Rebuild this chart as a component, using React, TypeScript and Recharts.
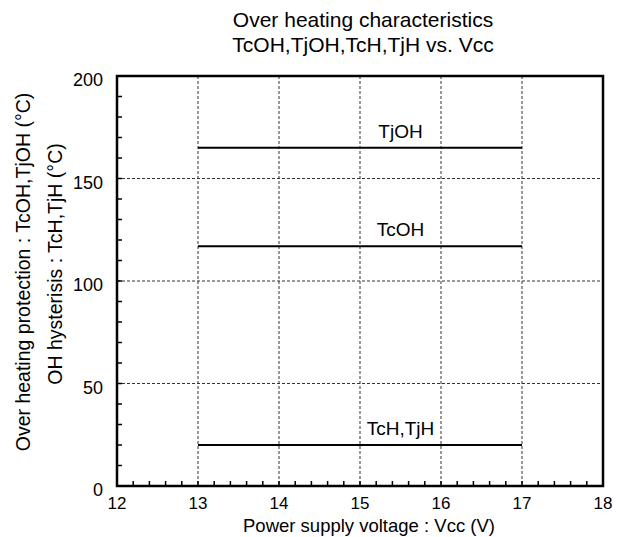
import React from 'react';
import {
  LineChart,
  Line,
  XAxis,
  YAxis,
  CartesianGrid,
  ReferenceArea,
  ReferenceDot,
} from 'recharts';

// power supply voltage (V) where each characteristic is specified
const vcc = [13, 17];
const tjoh = [165, 165];
const tcoh = [117, 117];
const tch = [20, 20];

const xTickLabels = [12, 13, 14, 15, 16, 17, 18];
const yTickLabels = [0, 50, 100, 150, 200];
const xMinorTicks = [
  12, 12.2, 12.4, 12.6, 12.8, 13, 13.2, 13.4, 13.6, 13.8, 14, 14.2, 14.4, 14.6, 14.8, 15,
  15.2, 15.4, 15.6, 15.8, 16, 16.2, 16.4, 16.6, 16.8, 17, 17.2, 17.4, 17.6, 17.8, 18,
];
const yMinorTicks = [
  0, 10, 20, 30, 40, 50, 60, 70, 80, 90, 100, 110, 120, 130, 140, 150, 160, 170, 180, 190, 200,
];

const seriesLabels = [
  { name: 'TjOH', x: 15.5, y: 165 },
  { name: 'TcOH', x: 15.5, y: 117 },
  { name: 'TcH,TjH', x: 15.5, y: 20 },
];

const data = vcc.map((v, i) => ({ vcc: v, tjoh: tjoh[i], tcoh: tcoh[i], tch: tch[i] }));

const FONT = '"Liberation Sans", Arial, sans-serif';
const W = 627;
const H = 537;

const isMajor = (v: number, list: number[]) => list.some((m) => Math.abs(m - v) < 1e-6);

function BottomTick(props: any) {
  const { x, y, payload } = props;
  const major = isMajor(payload.value, xTickLabels);
  return (
    <g>
      <line x1={x} y1={y} x2={x} y2={y - 5} stroke="#000" strokeWidth={1.5} />
      {major && (
        <text x={x} y={y + 23} textAnchor="middle" fontSize={17} fontFamily={FONT} fill="#000">
          {payload.value}
        </text>
      )}
    </g>
  );
}

function TopTick(props: any) {
  const { x, y } = props;
  return <line x1={x} y1={y} x2={x} y2={y + 5} stroke="#000" strokeWidth={1.5} />;
}

function LeftTick(props: any) {
  const { x, y, payload } = props;
  const major = isMajor(payload.value, yTickLabels);
  return (
    <g>
      <line x1={x} y1={y} x2={x + 5} y2={y} stroke="#000" strokeWidth={1.5} />
      {major && (
        <text x={x - 14} y={y + 10} textAnchor="end" fontSize={18} fontFamily={FONT} fill="#000">
          {payload.value}
        </text>
      )}
    </g>
  );
}

function RightTick(props: any) {
  const { x, y } = props;
  return <line x1={x} y1={y} x2={x - 5} y2={y} stroke="#000" strokeWidth={1.5} />;
}

export default function App() {
  return (
    <div style={{ position: 'absolute', left: 0, top: 0, width: W, height: H, background: '#fff' }}>
      <LineChart
        width={W}
        height={H}
        data={data}
        margin={{ top: 75, right: 23, bottom: 50, left: 116 }}
      >
        <CartesianGrid
          xAxisId="bottom"
          yAxisId="left"
          verticalValues={[13, 14, 15, 16, 17]}
          horizontalValues={[50, 100, 150]}
          stroke="#333"
          strokeDasharray="3 2"
          strokeWidth={1}
        />
        <XAxis
          xAxisId="bottom"
          dataKey="vcc"
          type="number"
          domain={[12, 18]}
          ticks={xMinorTicks}
          interval={0}
          height={1}
          axisLine={false}
          tickLine={false}
          tickSize={0}
          tickMargin={0}
          tick={<BottomTick />}
        />
        <XAxis
          xAxisId="top"
          orientation="top"
          type="number"
          domain={[12, 18]}
          ticks={xMinorTicks}
          interval={0}
          height={1}
          axisLine={false}
          tickLine={false}
          tickSize={0}
          tickMargin={0}
          tick={<TopTick />}
        />
        <YAxis
          yAxisId="left"
          type="number"
          domain={[0, 200]}
          ticks={yMinorTicks}
          interval={0}
          width={1}
          axisLine={false}
          tickLine={false}
          tickSize={0}
          tickMargin={0}
          tick={<LeftTick />}
        />
        <YAxis
          yAxisId="right"
          orientation="right"
          type="number"
          domain={[0, 200]}
          ticks={yMinorTicks}
          interval={0}
          width={1}
          axisLine={false}
          tickLine={false}
          tickSize={0}
          tickMargin={0}
          tick={<RightTick />}
        />
        <ReferenceArea
          xAxisId="bottom"
          yAxisId="left"
          x1={12}
          x2={18}
          y1={0}
          y2={200}
          fill="none"
          fillOpacity={0}
          stroke="#000"
          strokeWidth={2.5}
          strokeOpacity={1}
        />
        <Line
          xAxisId="bottom"
          yAxisId="left"
          dataKey="tjoh"
          stroke="#000"
          strokeWidth={2}
          dot={false}
          isAnimationActive={false}
        />
        <Line
          xAxisId="bottom"
          yAxisId="left"
          dataKey="tcoh"
          stroke="#000"
          strokeWidth={2}
          dot={false}
          isAnimationActive={false}
        />
        <Line
          xAxisId="bottom"
          yAxisId="left"
          dataKey="tch"
          stroke="#000"
          strokeWidth={2}
          dot={false}
          isAnimationActive={false}
        />
        {seriesLabels.map((s) => (
          <ReferenceDot
            key={s.name}
            xAxisId="bottom"
            yAxisId="left"
            x={s.x}
            y={s.y}
            r={0}
            fill="none"
            stroke="none"
            label={{
              value: s.name,
              position: 'top',
              offset: 10,
              fontSize: 19,
              fontFamily: FONT,
              fill: '#000',
            }}
          />
        ))}
      </LineChart>
      <svg
        width={W}
        height={H}
        style={{ position: 'absolute', left: 0, top: 0, pointerEvents: 'none' }}
        fontFamily={FONT}
        fill="#000"
      >
        <text x={363} y={27} textAnchor="middle" fontSize={21}>Over heating characteristics</text>
        <text x={363} y={52} textAnchor="middle" fontSize={21}>TcOH,TjOH,TcH,TjH vs. Vcc</text>
        <text x={369} y={532} textAnchor="middle" fontSize={18.5}>Power supply voltage : Vcc (V)</text>
        <text
          x={23}
          y={272}
          textAnchor="middle"
          dominantBaseline="central"
          fontSize={19.5}
          transform="rotate(-90 23 272)"
        >
          Over heating protection : TcOH,TjOH (°C)
        </text>
        <text
          x={55}
          y={264}
          textAnchor="middle"
          dominantBaseline="central"
          fontSize={19.5}
          transform="rotate(-90 55 264)"
        >
          OH hysterisis : TcH,TjH (°C)
        </text>
      </svg>
    </div>
  );
}
